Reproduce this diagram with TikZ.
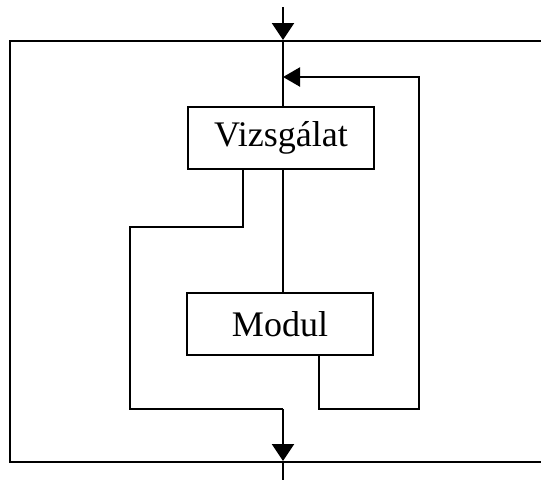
\documentclass[tikz,border=0pt]{standalone}
\usepackage{fontspec}
\setmainfont{Liberation Serif}
\usetikzlibrary{arrows.meta,positioning}
\tikzset{
  blokk/.style={draw, line width=2.2pt, minimum width=186pt, minimum height=62pt, inner sep=0pt, font=\fontsize{36}{40}\selectfont},
  vonal/.style={line width=2.2pt},
  nyil/.style={vonal, -{Triangle[width=22pt,length=17pt]}},
  visszanyil/.style={vonal, -{Triangle[width=19pt,length=17pt]}}
}

\begin{document}
\begin{tikzpicture}[x=1pt,y=-1pt]
    \useasboundingbox (0,0) rectangle (541,480);

    % blocks
    \node[blokk] (viz) at (281,138) {Vizsgálat};
    \node[blokk] (mod) at (280,324) {Modul};

    % frame
    \draw[vonal] (541,41) -- (10,41) -- (10,462) -- (541,462);

    % points on the main line
    \coordinate (be) at (283,7);
    \coordinate (fent) at (283,40);
    \coordinate (vissza) at (283,77);
    \coordinate (osszefut) at (283,409);
    \coordinate (lent) at (283,461);
    \coordinate (ki) at (283,480);

    % entry
    \draw[nyil] (be) -- (fent);
    \draw[vonal] (fent) -- (viz.north -| fent);

    % straight path
    \draw[vonal] (viz.south -| fent) -- (mod.north -| fent);

    % bypass on the left
    \draw[vonal] ([xshift=-38pt]viz.south) -- ++(0,57) -- ++(-113,0) |- (osszefut);

    % loop back on the right
    \draw[visszanyil] ([xshift=39pt]mod.south) |- (419,409) |- (vissza);

    % exit
    \draw[nyil] (osszefut) -- (lent);
    \draw[vonal] (lent) -- (ki);
\end{tikzpicture}
\end{document}
